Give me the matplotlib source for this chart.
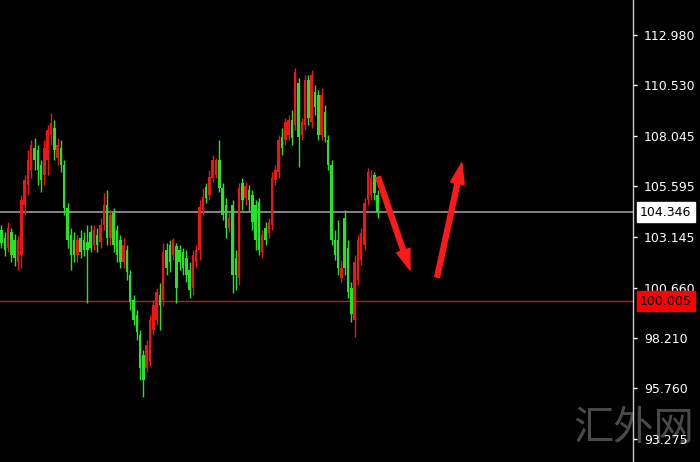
import matplotlib
matplotlib.use("Agg")
import matplotlib.pyplot as plt
import matplotlib.transforms as mtransforms
import numpy as np

# ---- data (price units) ----
opens = [103.47, 103.08, 102.59, 103.37, 102.98, 101.90, 102.25, 104.69, 105.66, 106.39,
         107.47, 107.37, 106.64, 106.15, 106.88, 108.10, 108.44, 106.98, 107.47, 106.64,
         104.54, 103.22, 102.98, 102.25, 103.08, 102.98, 102.88, 103.37, 102.73, 103.22,
         102.88, 103.71, 104.69, 103.08, 104.30, 103.47, 102.98, 101.90, 102.49, 101.27,
         100.05, 99.32, 98.34, 97.37, 96.73, 97.02, 98.59, 99.07, 100.29, 100.05,
         102.49, 102.73, 102.25, 102.69, 102.49, 102.39, 102.10, 101.51, 100.64, 101.90,
         102.49, 104.44, 105.56, 105.17, 106.00, 106.15, 106.88, 105.52, 104.69, 103.56,
         104.69, 102.10, 101.12, 105.76, 105.03, 105.42, 105.17, 104.69, 104.83, 102.39,
         103.56, 103.32, 103.71, 105.91, 106.30, 108.00, 107.86, 108.10, 108.83, 108.59,
         110.64, 108.10, 108.59, 110.79, 108.74, 110.20, 110.05, 108.10, 109.22, 107.86,
         106.64, 102.98, 102.98, 101.12, 104.05, 102.59, 100.64, 99.07, 101.03, 102.00,
         102.73, 104.93, 105.17, 106.15, 105.17]
closes = [102.83, 102.49, 103.56, 102.25, 102.10, 102.98, 104.93, 105.91, 106.88, 107.61,
          106.88, 106.39, 105.91, 107.47, 108.35, 108.69, 107.37, 107.61, 106.64, 104.54,
          102.98, 102.25, 102.25, 102.98, 102.39, 102.49, 102.49, 102.59, 103.47, 102.73,
          103.71, 104.69, 103.08, 104.20, 102.73, 102.25, 101.90, 102.73, 101.42, 99.95,
          99.07, 98.49, 96.73, 96.15, 97.85, 99.07, 99.81, 100.44, 99.81, 102.39,
          101.61, 101.90, 102.98, 100.64, 101.90, 101.61, 101.27, 100.54, 102.25, 102.49,
          104.59, 105.08, 105.03, 106.05, 106.88, 106.88, 105.52, 104.20, 103.56, 104.05,
          101.27, 101.27, 105.52, 104.93, 105.61, 104.93, 103.86, 102.98, 102.49, 103.22,
          102.98, 103.86, 106.00, 106.39, 107.86, 107.47, 108.74, 108.83, 107.96, 111.18,
          108.00, 108.74, 110.79, 108.93, 111.03, 109.47, 108.10, 110.05, 108.00, 106.64,
          102.98, 102.25, 101.61, 101.61, 101.61, 100.44, 99.37, 101.90, 102.98, 103.32,
          104.78, 106.30, 106.00, 105.27, 104.34]
highs = [103.71, 103.37, 103.86, 103.56, 103.27, 103.17, 105.17, 106.15, 107.37, 107.86,
         107.96, 107.61, 106.88, 107.86, 108.59, 109.18, 108.83, 107.96, 107.86, 106.88,
         104.78, 103.56, 103.37, 103.22, 103.47, 103.37, 103.71, 103.71, 103.71, 103.56,
         104.05, 105.27, 105.42, 104.44, 104.54, 103.71, 103.22, 103.08, 102.73, 101.51,
         100.29, 99.56, 98.59, 97.61, 98.10, 99.32, 100.05, 100.64, 100.88, 102.83,
         102.83, 102.98, 103.08, 102.83, 102.73, 102.59, 102.49, 101.90, 102.49, 102.73,
         104.93, 105.52, 105.76, 106.39, 107.13, 106.98, 107.86, 105.76, 105.03, 104.34,
         104.93, 102.49, 105.76, 106.00, 105.81, 105.66, 105.42, 104.93, 105.03, 103.47,
         103.86, 104.05, 106.30, 106.64, 108.10, 108.44, 108.93, 109.08, 109.32, 111.37,
         110.88, 108.93, 111.03, 111.03, 111.27, 110.54, 110.30, 110.40, 109.57, 108.10,
         106.88, 103.47, 103.95, 102.00, 104.44, 102.98, 100.93, 102.25, 103.22, 103.56,
         105.03, 106.49, 106.39, 106.30, 105.42]
lows = [102.59, 102.20, 102.39, 101.90, 101.71, 101.51, 101.61, 104.20, 105.17, 106.00,
        106.39, 105.66, 105.32, 105.66, 106.15, 107.61, 106.88, 106.64, 106.30, 104.20,
        102.59, 101.51, 101.90, 101.90, 102.10, 102.20, 99.90, 102.39, 102.49, 102.39,
        102.59, 103.47, 102.73, 102.73, 102.39, 101.90, 101.61, 101.61, 101.03, 99.56,
        98.83, 98.10, 96.15, 95.32, 96.54, 96.83, 98.34, 98.83, 98.59, 99.76,
        101.27, 101.42, 102.00, 99.90, 101.51, 101.27, 100.93, 100.15, 100.29, 101.61,
        102.00, 104.20, 104.78, 104.93, 105.81, 106.00, 105.32, 103.95, 103.08, 103.37,
        100.39, 100.54, 100.78, 104.44, 104.69, 104.34, 103.47, 102.49, 102.25, 102.10,
        102.73, 103.08, 103.47, 105.66, 106.00, 107.13, 107.61, 107.86, 107.61, 108.35,
        106.54, 107.86, 108.35, 108.59, 108.44, 109.08, 107.86, 107.86, 107.76, 106.39,
        102.73, 102.00, 101.27, 100.93, 101.27, 100.15, 98.98, 98.24, 100.78, 101.76,
        102.49, 104.69, 104.93, 104.93, 104.05]

tick_values = [112.980, 110.530, 108.045, 105.595, 103.145, 100.660, 98.210, 95.760, 93.275]
tick_labels = ["112.980", "110.530", "108.045", "105.595", "103.145", "100.660", "98.210", "95.760", "93.275"]
current_price = 104.346
support_price = 100.005
arrow_down = [(114.1, 106.05), (123.8, 101.51)]
arrow_up = [(132.0, 101.17), (139.5, 106.74)]

UP = "#f01414"
DOWN = "#22e622"

fig = plt.figure(figsize=(7.0, 4.62), dpi=100, facecolor="black")
ax = fig.add_axes([0, 0, 633 / 700, 1])
ax.set_facecolor("none")

fig.text(0.905, 0.072, "汇外网", color="#4a4a4a", fontsize=29,
         family=["Noto Sans CJK SC", "DejaVu Sans"], ha="center", va="center", zorder=-1)

n = len(opens)
x = np.arange(n)
o = np.array(opens); c = np.array(closes); h = np.array(highs); l = np.array(lows)
cols = [UP if cc >= oo else DOWN for oo, cc in zip(o, c)]
ax.vlines(x, l, h, colors=cols, linewidth=1.0, zorder=2)
bottom = np.minimum(o, c)
height = np.maximum(np.abs(c - o), 0.05)
ax.bar(x, height, bottom=bottom, width=0.75, color=cols, linewidth=0, zorder=3)

ax.axhline(current_price, color="#a8a8a8", linewidth=1.1, zorder=1)
ax.axhline(support_price, color="#d41414", linewidth=1.0, zorder=1)

arrow_kw = dict(arrowstyle="simple,head_length=1.5,head_width=1.0,tail_width=0.35",
                color="#ff1a1a", mutation_scale=10, shrinkA=0, shrinkB=0)
ax.annotate("", xy=arrow_down[1], xytext=arrow_down[0], arrowprops=arrow_kw, zorder=4)
ax.annotate("", xy=arrow_up[1], xytext=arrow_up[0], arrowprops=arrow_kw, zorder=4)

ax.set_xlim(-0.4545, 191.36)
ax.set_ylim(92.153, 114.687)

for s in ["top", "left", "bottom"]:
    ax.spines[s].set_visible(False)
ax.spines["right"].set_color("#c8c8c8")
ax.spines["right"].set_linewidth(1.0)
ax.set_xticks([])
ax.yaxis.tick_right()
ax.set_yticks(tick_values)
ax.set_yticklabels(tick_labels)
ax.tick_params(axis="y", colors="#ffffff", length=3, width=1, pad=5, labelsize=9)

trans = mtransforms.blended_transform_factory(ax.transAxes, ax.transData)
ax.text(1.0 + 7 / 633, current_price, f"{current_price:.3f}", transform=trans,
        color="black", fontsize=9, va="center", ha="left",
        bbox=dict(boxstyle="square,pad=0.25", facecolor="white", edgecolor="white"), zorder=5)
ax.text(1.0 + 7 / 633, support_price, f"{support_price:.3f}", transform=trans,
        color="black", fontsize=9, va="center", ha="left",
        bbox=dict(boxstyle="square,pad=0.25", facecolor="#ff0000", edgecolor="#ff0000"), zorder=5)

fig.savefig("out.png", dpi=100, facecolor="black")
